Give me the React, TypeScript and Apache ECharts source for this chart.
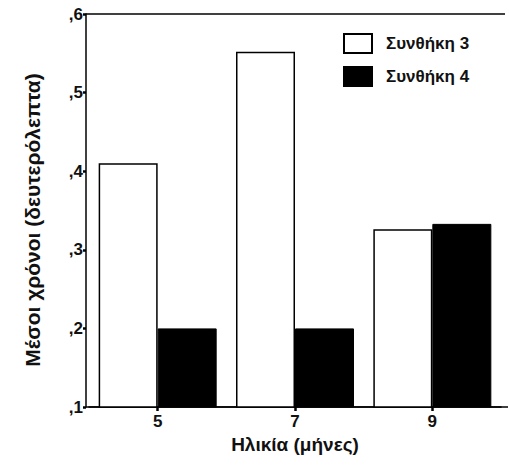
import React, { useEffect, useRef } from "react";
import * as echarts from "echarts";

const categories = ["5", "7", "9"];
const seriesNames = ["Συνθήκη 3", "Συνθήκη 4"];
const cond3 = [0.41, 0.552, 0.326];
const cond4 = [0.2, 0.2, 0.333];
const yTicks = [0.1, 0.2, 0.3, 0.4, 0.5, 0.6];
const xTitle = "Ηλικία (μήνες)";
const yTitle = "Μέσοι χρόνοι (δευτερόλεπτα)";

const FONT = "Liberation Sans, Arial, sans-serif";

export default function App() {
  const ref = useRef<HTMLDivElement>(null);
  useEffect(() => {
    if (!ref.current) return;
    const chart = echarts.init(ref.current, undefined, { renderer: "svg" });
    chart.setOption({
      animation: false,
      backgroundColor: "#ffffff",
      textStyle: { fontFamily: FONT },
      grid: { left: 89, right: 8, top: 14, bottom: 63 },
      legend: {
        orient: "vertical",
        left: 338,
        top: 28,
        itemWidth: 28,
        itemHeight: 19,
        itemGap: 12,
        icon: "rect",
        textStyle: { fontSize: 17, fontWeight: "bold", color: "#111", fontFamily: FONT, padding: [0, 0, 0, 9] },
        data: seriesNames,
      },
      xAxis: {
        type: "category",
        data: categories,
        name: xTitle,
        nameLocation: "middle",
        nameGap: 24,
        nameTextStyle: { fontSize: 19, fontWeight: "bold", color: "#111", fontFamily: FONT },
        axisLine: { show: true, lineStyle: { color: "#000", width: 1.5 } },
        axisTick: { show: true, alignWithLabel: true, length: 4, lineStyle: { color: "#000", width: 2.5 } },
        axisLabel: { fontSize: 17, fontWeight: "bold", color: "#111", margin: 6, fontFamily: FONT },
      },
      yAxis: {
        type: "value",
        min: yTicks[0],
        max: yTicks[yTicks.length - 1],
        interval: 0.1,
        offset: 3,
        axisLine: { show: true, lineStyle: { color: "#000", width: 1.5 } },
        axisTick: { show: true, length: 3, lineStyle: { color: "#000", width: 2.5 } },
        splitLine: { show: false },
        axisLabel: {
          fontSize: 17,
          fontWeight: "bold",
          color: "#111",
          margin: 3,
          fontFamily: FONT,
          formatter: (v: number) => "," + Math.round(v * 10),
        },
      },
      graphic: [
        { type: "line", shape: { x1: 86, y1: 14, x2: 505, y2: 14 }, style: { stroke: "#000", lineWidth: 1.5 } },
        { type: "line", shape: { x1: 86, y1: 407, x2: 508, y2: 407 }, style: { stroke: "#000", lineWidth: 1.5 } },
        {
          type: "text",
          x: 32,
          y: 220,
          rotation: Math.PI / 2,
          style: {
            text: yTitle,
            fontSize: 21,
            fontWeight: "bold",
            fill: "#111",
            fontFamily: FONT,
            textAlign: "center",
            textVerticalAlign: "middle",
          },
        },
      ],
      series: [
        {
          name: seriesNames[0],
          type: "bar",
          data: cond3,
          barWidth: 59,
          barGap: "0%",
          itemStyle: { color: "#ffffff", borderColor: "#000", borderWidth: 1.5 },
        },
        {
          name: seriesNames[1],
          type: "bar",
          data: cond4,
          barWidth: 59,
          barGap: "0%",
          itemStyle: { color: "#000000", borderColor: "#000", borderWidth: 1 },
        },
      ],
    });
    return () => chart.dispose();
  }, []);
  return <div ref={ref} style={{ width: 509, height: 470, position: "absolute", left: 0, top: 0 }} />;
}
